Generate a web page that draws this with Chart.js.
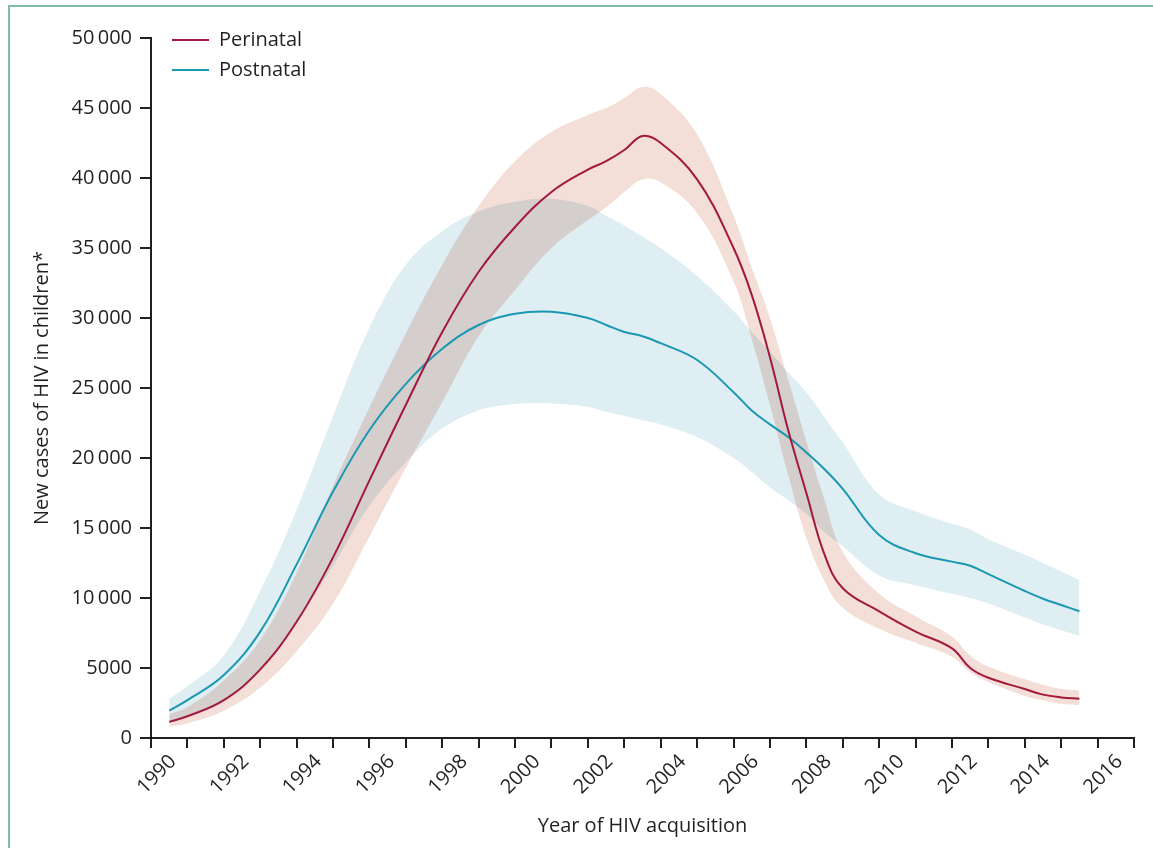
<!DOCTYPE html>
<html lang="en">
<head>
    <meta charset="UTF-8">
    <title>New cases of HIV in children</title>
    <style>
        body {
            margin: 0;
            padding: 0;
            background: #ffffff;
        }
        #frame {
            position: absolute;
            left: 8px;
            top: 5px;
            width: 1300px;
            height: 1000px;
            border-top: 2px solid #7dbcab;
            border-left: 2px solid #7dbcab;
        }
        #wrap {
            position: absolute;
            left: 0;
            top: 0;
            width: 1153px;
            height: 848px;
        }
    </style>
</head>
<body>
    <div id="frame"></div>
    <div id="wrap"><canvas id="hivChart"></canvas></div>

    <script src="https://cdn.jsdelivr.net/npm/chart.js"></script>
    <script>
        // year of acquisition (mid-year points)
        const years = [1990.5, 1991, 1992, 1993, 1994, 1995, 1996, 1997, 1998, 1999, 2000, 2001, 2002, 2002.5,
            2003, 2003.5, 2004, 2005, 2006, 2006.5, 2007, 2007.5, 2008, 2008.5, 2009, 2010, 2011, 2012, 2012.5,
            2013, 2014, 2014.5, 2015, 2015.5];

        const perinatal = [1150, 1550, 2700, 4900, 8300, 12900, 18400, 23800, 29000, 33300, 36500, 39000, 40600, 41200,
            42000, 43000, 42500, 39900, 35000, 31650, 27200, 22000, 17500, 13100, 10700, 9050, 7600, 6400, 5000,
            4300, 3500, 3100, 2900, 2800];
        const perinatalHigh = [1700, 2200, 4100, 7000, 11800, 18000, 23600, 28900, 33800, 38000, 41200, 43300, 44500, 45000,
            45700, 46500, 46000, 43100, 37300, 33600, 30000, 25600, 21200, 17000, 13300, 10300, 8700, 7240, 5900,
            5100, 4200, 3800, 3500, 3400];
        const perinatalLow = [800, 1050, 1950, 3600, 6200, 9600, 14400, 19300, 24000, 28700, 32000, 35000, 37000, 37900,
            39000, 39900, 39700, 37500, 32600, 28500, 23800, 18800, 14300, 11200, 9300, 7800, 6800, 5800, 4700,
            4000, 3000, 2700, 2450, 2350];

        const postnatal = [1950, 2700, 4500, 7600, 12400, 17600, 22000, 25300, 27800, 29500, 30300, 30450, 30000, 29500,
            29000, 28700, 28200, 27000, 24700, 23400, 22400, 21500, 20400, 19200, 17800, 14500, 13200, 12600, 12300,
            11700, 10500, 9950, 9500, 9050];
        const postnatalHigh = [2800, 3700, 5900, 10500, 16300, 23000, 29300, 33800, 36200, 37600, 38300, 38500, 38000, 37300,
            36600, 35800, 35000, 33000, 30500, 29000, 27600, 26100, 24700, 22900, 21100, 17400, 16200, 15300, 14900,
            14200, 13100, 12500, 11900, 11300];
        const postnatalLow = [1150, 1550, 2700, 4800, 8300, 12300, 16600, 19700, 22100, 23400, 23850, 23900, 23650, 23300,
            23000, 22700, 22400, 21500, 20000, 19000, 17900, 17000, 16000, 14700, 13700, 11600, 10900, 10300, 10000,
            9600, 8600, 8100, 7700, 7300];

        const xTickLabels = ['1990', '1992', '1994', '1996', '1998', '2000', '2002', '2004', '2006', '2008',
            '2010', '2012', '2014', '2016'];
        const yTickLabels = ['0', '5000', '10\u2009000', '15\u2009000', '20\u2009000', '25\u2009000', '30\u2009000',
            '35\u2009000', '40\u2009000', '45\u2009000', '50\u2009000'];

        const ink = '#231f20';
        const redLine = '#a3193d';
        const blueLine = '#1a98b3';
        const pinkBand = '#f3ded8';
        const blueBand = '#dfeef2';
        const font = "'Open Sans', sans-serif";

        const pts = arr => years.map((x, i) => ({ x: x, y: arr[i] }));

        function band(label, values, fill, colour) {
            return {
                label: label,
                data: pts(values),
                borderWidth: 0,
                pointRadius: 0,
                fill: fill,
                backgroundColor: colour,
                tension: 0.4
            };
        }

        function line(label, values, colour) {
            return {
                label: label,
                data: pts(values),
                borderColor: colour,
                backgroundColor: colour,
                borderWidth: 2,
                pointRadius: 0,
                fill: false,
                tension: 0.4
            };
        }

        // overlapping uncertainty bands mix like ink (grey where they cross)
        const blendBands = {
            id: 'blendBands',
            beforeDraw(chart) {
                chart.ctx.globalCompositeOperation = 'multiply';
            },
            beforeDatasetsDraw(chart) {
                chart.ctx.globalCompositeOperation = 'source-over';
            },
            afterLayout(chart) {
                // legend sits in the top-left corner of the plot
                chart.legend.left = 162;
                chart.legend.top = 20;
            }
        };

        new Chart(document.getElementById('hivChart'), {
            type: 'line',
            data: {
                datasets: [
                    band('Perinatal upper', perinatalHigh, false, pinkBand),
                    band('Perinatal lower', perinatalLow, '-1', pinkBand),
                    band('Postnatal upper', postnatalHigh, false, blueBand),
                    band('Postnatal lower', postnatalLow, '-1', blueBand),
                    line('Perinatal', perinatal, redLine),
                    line('Postnatal', postnatal, blueLine)
                ]
            },
            options: {
                responsive: true,
                maintainAspectRatio: false,
                animation: false,
                layout: { padding: { top: 38, right: 9, left: 0, bottom: 0 } },
                plugins: {
                    filler: { drawTime: 'beforeDatasetsDraw' },
                    tooltip: { enabled: false },
                    legend: {
                        position: 'chartArea',
                        align: 'start',
                        labels: {
                            filter: item => item.datasetIndex >= 4,
                            usePointStyle: true,
                            pointStyle: 'line',
                            pointStyleWidth: 37,
                            color: ink,
                            padding: 10,
                            font: { family: font, size: 20 }
                        }
                    }
                },
                scales: {
                    x: {
                        type: 'linear',
                        min: 1990,
                        max: 2017,
                        afterFit: s => { s.height = 110; },
                        border: { color: ink, width: 2 },
                        grid: { drawOnChartArea: false, tickLength: 10, color: ink, lineWidth: 2 },
                        ticks: {
                            stepSize: 1,
                            autoSkip: false,
                            minRotation: 45,
                            maxRotation: 45,
                            labelOffset: 22,
                            padding: 2,
                            color: ink,
                            font: { family: font, size: 20 },
                            callback: v => xTickLabels.includes(String(v)) ? String(v) : ''
                        },
                        title: {
                            display: true,
                            text: 'Year of HIV acquisition',
                            color: ink,
                            font: { family: font, size: 20 },
                            padding: { top: 0, bottom: 10 }
                        }
                    },
                    y: {
                        min: 0,
                        max: 50000,
                        afterFit: s => { s.width = 151; },
                        border: { color: ink, width: 2 },
                        grid: { drawOnChartArea: false, tickLength: 11, color: ink, lineWidth: 2 },
                        ticks: {
                            stepSize: 5000,
                            padding: 8,
                            color: ink,
                            font: { family: font, size: 20 },
                            callback: (v, i) => yTickLabels[i]
                        },
                        title: {
                            display: true,
                            text: 'New cases of HIV in children*',
                            color: ink,
                            font: { family: font, size: 20 },
                            padding: { top: 30, bottom: 0 }
                        }
                    }
                }
            },
            plugins: [blendBands]
        });
    </script>
</body>
</html>
